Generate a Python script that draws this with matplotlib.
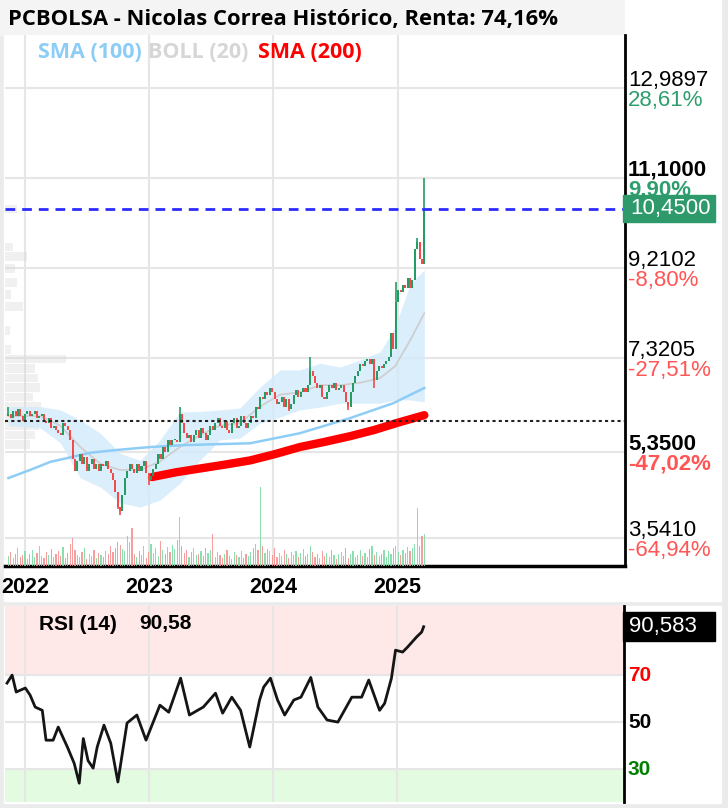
import numpy as np
import pandas as pd
import matplotlib
matplotlib.use("Agg")
import matplotlib.pyplot as plt
import matplotlib.dates as mdates
from matplotlib.patches import Rectangle

# ---- data ----
dates = pd.date_range("2021-11-12", periods=176, freq="W-FRI")

closes = [
    6.15, 6.05, 6.2, 6.1, 6.25, 6.1, 6.0, 6.15, 6.2, 6.1,
    6.15, 6.2, 6.05, 6.1, 6.15, 6.0, 5.95, 6.05, 5.85, 5.9,
    5.8, 5.75, 5.7, 5.95, 5.9, 5.8, 5.6, 5.2, 4.95, 5.15,
    5.3, 5.1, 5.25, 4.95, 5.1, 5.2, 5.0, 5.1, 4.95, 5.1,
    5.05, 5.15, 5.0, 4.9, 4.75, 4.5, 4.2, 4.1, 4.45, 4.8,
    4.95, 5.1, 5.0, 4.9, 5.1, 4.95, 5.05, 5.15, 4.9, 4.75,
    4.85, 5.0, 5.1, 5.3, 5.2, 5.45, 5.35, 5.6, 5.5, 5.6,
    5.6, 5.55, 6.15, 5.95, 5.75, 5.65, 5.7, 5.55, 5.7, 5.8,
    5.65, 5.85, 5.75, 5.6, 5.7, 5.9, 5.8, 5.95, 6.05, 5.9,
    5.85, 6.0, 5.8, 5.75, 5.95, 6.05, 5.85, 5.9, 6.1, 5.95,
    5.85, 5.95, 6.1, 6.05, 6.3, 6.25, 6.5, 6.45, 6.6, 6.55,
    6.7, 6.6, 6.45, 6.35, 6.4, 6.5, 6.3, 6.45, 6.25, 6.35,
    6.55, 6.65, 6.5, 6.6, 6.7, 6.6, 6.75, 7.05, 6.95, 6.8,
    6.7, 6.75, 6.5, 6.45, 6.6, 6.75, 6.7, 6.8, 6.65, 6.7,
    6.75, 6.6, 6.4, 6.3, 6.6, 6.8, 6.95, 7.05, 7.2, 7.15,
    7.25, 7.3, 7.2, 7.3, 6.85, 7.05, 7.15, 7.1, 7.2, 7.25,
    7.35, 7.85, 7.5, 8.5, 8.75, 8.7, 8.85, 8.8, 9.0, 8.8,
    8.95, 9.6, 9.75, 9.4, 9.3, 10.45,
]
first_open = 6.1
# wicks that stand out in the picture (week index -> price)
wick_highs = {0: 6.3, 72: 6.29, 127: 7.34, 163: 8.92, 172: 9.85, 175: 11.1}
wick_lows = {46: 4.15, 47: 4.02, 59: 4.65, 118: 6.2, 143: 6.22, 154: 6.7}

volumes = [
    10, 14, 8, 12, 18, 9, 11, 15, 7, 12,
    16, 9, 13, 20, 10, 8, 14, 11, 17, 9,
    12, 15, 10, 19, 8, 13, 22, 28, 16, 11,
    9, 14, 18, 7, 12, 10, 16, 8, 13, 11,
    9, 15, 12, 20, 14, 18, 24, 21, 17, 15,
    30, 24, 38, 12, 9, 15, 11, 20, 8, 14,
    22, 13, 18, 10, 25, 16, 12, 19, 14, 21,
    17, 26, 49, 20, 13, 16, 9, 14, 18, 11,
    12, 15, 10, 18, 13, 16, 32, 9, 14, 11,
    8, 12, 16, 10, 7, 14, 11, 9, 15, 8,
    12, 10, 14, 18, 22, 16, 79, 20, 13, 17,
    15, 11, 18, 9, 13, 10, 16, 12, 8, 14,
    11, 15, 9, 13, 17, 10, 12, 20, 14, 9,
    12, 8, 15, 10, 13, 9, 16, 11, 7, 12,
    14, 10, 18, 8, 12, 15, 9, 11, 16, 10,
    13, 9, 17, 20, 11, 14, 10, 12, 16, 9,
    15, 12, 18, 20, 14, 11, 16, 13, 19, 15,
    18, 22, 58, 20, 30, 32,
]

# Bollinger (20)
bb_dates = ["2021-11-12", "2022-02-14", "2022-04-14", "2022-06-12", "2022-08-10",
            "2022-10-07", "2022-12-05", "2023-02-02", "2023-04-01", "2023-05-30",
            "2023-07-28", "2023-09-25", "2023-11-23", "2024-01-21", "2024-03-19",
            "2024-05-18", "2024-07-16", "2024-09-13", "2024-11-11", "2024-12-25",
            "2025-02-08", "2025-03-21"]
bb_upper = [6.3, 6.3, 6.23, 6.02, 5.74, 5.32, 5.17, 5.6, 6.19, 6.2, 6.23, 6.27,
            6.71, 7.07, 7.07, 7.21, 7.13, 7.28, 7.45, 7.97, 8.89, 9.17]
bb_lower = [5.9, 5.85, 5.54, 4.8, 4.61, 4.28, 4.19, 4.34, 4.69, 5.17, 5.6, 5.64,
            5.95, 6.08, 6.23, 6.29, 6.37, 6.37, 6.37, 6.44, 6.44, 6.4]
bb_mid = [6.1, 6.1, 5.9, 5.45, 5.1, 4.97, 4.97, 5.15, 5.45, 5.7, 5.9, 5.95,
          6.3, 6.55, 6.6, 6.75, 6.75, 6.8, 6.9, 7.15, 7.7, 8.26]

sma100_dates = ["2021-11-12", "2022-01-15", "2022-03-16", "2022-05-05", "2022-07-10",
                "2022-09-28", "2023-01-03", "2023-04-10", "2023-10-25", "2024-03-19",
                "2024-08-15", "2024-12-19", "2025-03-21"]
sma100 = [4.8, 4.97, 5.14, 5.22, 5.33, 5.39, 5.45, 5.49, 5.53, 5.74, 6.06, 6.37, 6.69]

sma200_dates = ["2023-01-09", "2023-03-20", "2023-05-30", "2023-08-10", "2023-10-25",
                "2024-01-05", "2024-03-19", "2024-06-01", "2024-08-15", "2024-10-25",
                "2025-01-01", "2025-03-21"]
sma200 = [4.82, 4.92, 5.0, 5.08, 5.17, 5.3, 5.45, 5.56, 5.68, 5.81, 5.96, 6.12]

# volume profile on the left edge (price level -> relative volume)
vp_prices = [10.45, 9.65, 9.45, 9.2, 8.9, 8.65, 8.4, 7.9, 7.5, 7.3, 7.1, 6.9,
             6.7, 6.5, 6.3, 6.1, 5.9, 5.7, 5.5]
vp_sizes = [12, 8, 22, 10, 12, 6, 18, 5, 6, 61, 30, 33, 35, 28, 36, 38, 34, 30, 25]

rsi_dates = ["2021-11-08", "2021-11-23", "2021-12-05", "2022-01-01", "2022-01-15",
             "2022-01-30", "2022-02-20", "2022-03-03", "2022-03-24", "2022-04-08",
             "2022-05-05", "2022-05-25", "2022-06-09", "2022-06-21", "2022-07-05",
             "2022-07-20", "2022-08-01", "2022-08-21", "2022-09-10", "2022-10-01",
             "2022-10-28", "2022-11-26", "2022-12-23", "2023-02-02", "2023-02-28",
             "2023-04-04", "2023-04-30", "2023-06-10", "2023-07-16", "2023-08-06",
             "2023-09-02", "2023-09-28", "2023-10-25", "2023-11-23", "2023-12-05",
             "2023-12-25", "2024-01-15", "2024-02-05", "2024-03-03", "2024-03-24",
             "2024-04-22", "2024-05-13", "2024-06-09", "2024-07-11", "2024-08-21",
             "2024-09-19", "2024-10-10", "2024-11-11", "2024-11-26", "2024-12-16",
             "2024-12-28", "2025-01-18", "2025-02-02", "2025-02-28", "2025-03-15",
             "2025-03-21"]
rsi_vals = [66.6, 70, 62.8, 64.5, 61.5, 56.4, 55, 42.3, 42.3, 47.9, 39.4, 32.5,
            24, 43, 33.6, 30.4, 39.4, 48.7, 41, 24.5, 49.6, 53, 42.3, 57.2, 54.2,
            68.7, 53, 56.4, 62.3, 53.8, 60.6, 55, 39.4, 59.4, 64.9, 68.7, 59.4,
            53, 59.4, 60.6, 69, 56.4, 50.9, 50, 60.6, 60.6, 67.9, 55, 58, 68.7,
            80.6, 79.8, 82, 86.2, 88.3, 90.58]

price_ticks = [12.9897, 11.1, 9.2102, 7.3205, 5.35, 3.541]
price_labels = ["12,9897", "11,1000", "9,2102", "7,3205", "5,3500", "3,5410"]
pct_labels = ["28,61%", "9,90%", "-8,80%", "-27,51%", "-47,02%", "-64,94%"]
bold_ticks = [False, True, False, False, True, False]
year_ticks = ["2022-01-01", "2023-01-01", "2024-01-01", "2025-01-01"]
year_labels = ["2022", "2023", "2024", "2025"]
last_price = 10.45
start_price = 6.0
last_rsi = 90.583

GREEN = "#249c64"
RED = "#f24b4b"
PCT_GREEN = "#2e9e6e"
PCT_RED = "#ff5555"

# ---- figure ----
W, H = 728, 808
fig = plt.figure(figsize=(W / 100, H / 100), dpi=100, facecolor="#ebebeb")


def frac(x0, y0, x1, y1):
    return [x0 / W, 1 - y1 / H, (x1 - x0) / W, (y1 - y0) / H]


for x0, y0, x1, y1, c in [(4, 35, 721, 601, "white"), (4, 606, 721, 803, "white"),
                          (0, 0, 625, 35, "#f4f4f4"), (625, 0, 721, 35, "white")]:
    l, b, w, h = frac(x0, y0, x1, y1)
    fig.add_artist(Rectangle((l, b), w, h, transform=fig.transFigure,
                             color=c, zorder=-10))

xlim = (mdates.date2num(pd.Timestamp("2021-11-02")),
        mdates.date2num(pd.Timestamp("2026-11-02")))

ax = fig.add_axes(frac(5, 35, 625, 566))
ax.set_xlim(xlim)
ax.set_ylim(2.953, 14.102)

# volume profile
vp_scale = 0.0984 / max(vp_sizes)
for p, s in zip(vp_prices, vp_sizes):
    ax.add_patch(Rectangle((0, p - 0.09), s * vp_scale, 0.18,
                           transform=ax.get_yaxis_transform(),
                           color="#d5d5d5", alpha=0.35, lw=0, zorder=1))

# bollinger + moving averages
bbd = pd.to_datetime(bb_dates)
ax.fill_between(bbd, bb_upper, bb_lower, color="#d3eafb", alpha=0.8, lw=0, zorder=1.5)
ax.plot(bbd, bb_mid, color="#cdcdcd", lw=1.2, zorder=2)
ax.plot(pd.to_datetime(sma100_dates), sma100, color="#8ecdf5", lw=1.8, zorder=2.5)
ax.plot(pd.to_datetime(sma200_dates), sma200, color="#ff0000", lw=6,
        solid_capstyle="round", zorder=3)

# candles
c = np.array(closes)
o = np.array([first_open] + closes[:-1])
hi = np.maximum(o, c)
lo = np.minimum(o, c)
for i, v in wick_highs.items():
    hi[i] = v
for i, v in wick_lows.items():
    lo[i] = v
up = c >= o
col = np.where(up, GREEN, RED)
ax.vlines(dates, lo, hi, color=col, lw=1.2, zorder=4)
ax.bar(dates, np.maximum(np.abs(c - o), 0.03), bottom=np.minimum(o, c),
       width=6, color=col, lw=0, zorder=4)

ax.axhline(last_price, color="#2b2bff", lw=2, ls=(0, (3.5, 2.5)), zorder=5)
ax.axhline(start_price, color="#222222", lw=1.5, ls=(0, (1.5, 1.5)), zorder=5)

ax.set_yticks(price_ticks)
ax.set_xticks(pd.to_datetime(year_ticks))
ax.set_xticklabels(year_labels, fontsize=15.5, fontweight="bold",
                   family="Liberation Sans")
ax.tick_params(axis="y", length=0, labelleft=False, labelright=False)
ax.tick_params(axis="x", length=0, pad=8)
ax.grid(True, color="#e6e6e6", lw=1.5, zorder=0)
ax.set_axisbelow(True)
for s in ["top", "left"]:
    ax.spines[s].set_visible(False)
ax.spines["right"].set_linewidth(2)
ax.spines["bottom"].set_linewidth(2.5)

# right-hand price labels
yt = ax.get_yaxis_transform()
for p, lab, pct, b in zip(price_ticks, price_labels, pct_labels, bold_ticks):
    w = "bold" if b else "normal"
    ax.annotate(lab, xy=(1, p), xycoords=yt, xytext=(3, 2), textcoords="offset pixels",
                va="baseline", ha="left", fontsize=16, fontweight=w,
                family="Liberation Sans", color="black", annotation_clip=False)
    ax.annotate(pct, xy=(1, p), xycoords=yt, xytext=(3, -2), textcoords="offset pixels",
                va="top", ha="left", fontsize=16, fontweight=w, family="Liberation Sans",
                color=PCT_GREEN if not pct.startswith("-") else PCT_RED,
                annotation_clip=False)

ax.add_patch(Rectangle((0.997, last_price - 0.283), 0.148, 0.566, transform=yt,
                       color="#2e9a6c", clip_on=False, zorder=6))
ax.annotate("10,4500", xy=(1, last_price), xycoords=yt, xytext=(5, 0),
            textcoords="offset pixels", va="center", ha="left", fontsize=16,
            family="Liberation Sans", color="white", zorder=7, annotation_clip=False)

# volume
vax = ax.twinx()
vax.bar(dates, volumes, width=3.5, color=np.where(up, "#7fdca6", "#f59393"),
        lw=0, alpha=0.9)
vax.set_ylim(0, max(volumes) / 0.149)
vax.set_xlim(xlim)
vax.axis("off")

# title and legend
fig.text(8 / W, 1 - 20 / H, "PCBOLSA - Nicolas Correa Histórico, Renta: 74,16%",
         va="center", ha="left", fontsize=15.8, fontweight="bold", family="Open Sans")
for x, txt, cl in [(38, "SMA (100)", "#8ccdf7"), (148, "BOLL (20)", "#d6d6d6"),
                   (258, "SMA (200)", "#ff0000")]:
    fig.text(x / W, 1 - 52 / H, txt, va="center", ha="left", fontsize=15.5,
             fontweight="bold", family="Open Sans", color=cl)

# ---- RSI panel ----
rax = fig.add_axes(frac(5, 606, 624, 802))
rax.set_xlim(xlim)
rax.set_ylim(16, 99.4)
rax.axhspan(70, 99.4, color="#ffe8e8", lw=0, zorder=0)
rax.axhspan(16, 30, color="#e3fbe0", lw=0, zorder=0)
rax.plot(pd.to_datetime(rsi_dates), rsi_vals, color="#151515", lw=2, zorder=3)
rax.set_yticks([30, 50, 70])
rax.set_xticks(pd.to_datetime(year_ticks))
rax.tick_params(length=0, labelleft=False, labelbottom=False)
rax.grid(True, color="#e6e6e6", lw=1.5, zorder=1)
rax.set_axisbelow(True)
for s in ["top", "left", "bottom"]:
    rax.spines[s].set_visible(False)
rax.spines["right"].set_linewidth(2)

ryt = rax.get_yaxis_transform()
for lvl, cl in [(70, "#ff0000"), (50, "black"), (30, "#008000")]:
    rax.annotate(str(lvl), xy=(1, lvl), xycoords=ryt, xytext=(4, 0),
                 textcoords="offset pixels", va="center", ha="left", fontsize=15,
                 fontweight="bold", family="Liberation Sans", color=cl,
                 annotation_clip=False)
rax.add_patch(Rectangle((0.998, last_rsi - 6.2), 0.149, 12.4, transform=ryt,
                        color="black", clip_on=False, zorder=6))
rax.annotate("90,583", xy=(1, last_rsi), xycoords=ryt, xytext=(5, 0),
             textcoords="offset pixels", va="center", ha="left", fontsize=16,
             family="Liberation Sans", color="white", zorder=7, annotation_clip=False)
fig.text(39 / W, 1 - 624 / H, "RSI (14)", va="center", ha="left", fontsize=15,
         fontweight="bold", family="Liberation Sans")
fig.text(139 / W, 1 - 624 / H, "90,58", va="center", ha="left", fontsize=15,
         fontweight="bold", family="Liberation Sans")

fig.savefig("out.png", dpi=100, facecolor=fig.get_facecolor())
